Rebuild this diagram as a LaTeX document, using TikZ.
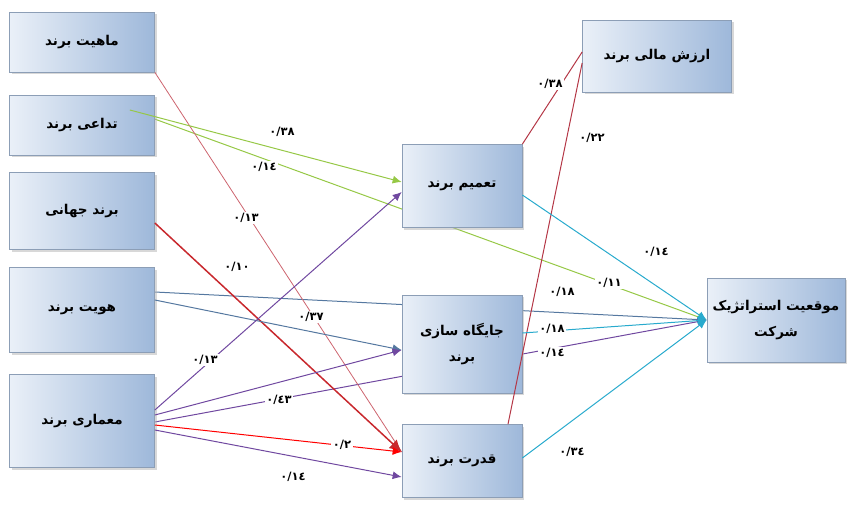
\documentclass[tikz,border=0pt]{standalone}
\usepackage{fontspec}
\newfontfamily\arabicfont[Script=Arabic]{DejaVu Sans}
\TeXXeTstate=1
\usetikzlibrary{shadows,backgrounds,arrows.meta}
\definecolor{boxlight}{RGB}{234,240,248}
\definecolor{boxdark}{RGB}{158,184,218}
\definecolor{boxline}{RGB}{140,158,182}
\definecolor{rose}{RGB}{205,100,110}
\definecolor{leaf}{RGB}{150,200,70}
\definecolor{deepred}{RGB}{200,40,45}
\definecolor{steel}{RGB}{85,120,160}
\definecolor{violet}{RGB}{112,72,160}
\definecolor{brick}{RGB}{180,55,70}
\definecolor{aqua}{RGB}{40,170,205}
\newcommand{\fatext}[1]{\arabicfont\bfseries\beginR #1\endR}
\newcommand{\fanum}[1]{\arabicfont\bfseries #1}

\begin{document}
\begin{tikzpicture}[x=1pt, y=-1pt,
  box/.style={draw=boxline, line width=0.7pt, left color=boxlight, right color=boxdark,
    drop shadow={shadow xshift=2pt, shadow yshift=-2pt, fill=black!30},
    font=\fontsize{13.5}{26}\selectfont, align=center, inner sep=2pt},
  num/.style={fill=white, inner sep=1.5pt, font=\fontsize{11.5}{13}\selectfont},
  conn/.style={line width=1pt, -{Latex[length=9pt,width=8pt]}}]
  \useasboundingbox (0,0) rectangle (849,506);

  % boxes on the left
  \node[box, minimum width=145pt, minimum height=60pt] (mahiyat) at (82,42) {\fatext{ماهیت برند}};
  \node[box, minimum width=145pt, minimum height=60pt] (tadai) at (82,125) {\fatext{تداعی برند}};
  \node[box, minimum width=145pt, minimum height=77pt] (jahani) at (82,211) {\fatext{برند جهانی}};
  \node[box, minimum width=145pt, minimum height=85pt] (hoviat) at (82,310) {\fatext{هویت برند}};
  \node[box, minimum width=145pt, minimum height=93pt] (memari) at (82,421) {\fatext{معماری برند}};

  % middle and right boxes
  \node[box, minimum width=120pt, minimum height=83pt] (tamim) at (462,186) {\fatext{تعمیم برند}};
  \node[box, minimum width=120pt, minimum height=98pt] (jaygah) at (462,344) {\fatext{جایگاه سازی}\\ \fatext{برند}};
  \node[box, minimum width=120pt, minimum height=73pt] (ghodrat) at (462,461) {\fatext{قدرت برند}};
  \node[box, minimum width=149pt, minimum height=72pt] (arzesh) at (657,56) {\fatext{ارزش مالی برند}};
  \node[box, minimum width=138pt, minimum height=84pt] (mogheiat) at (776,320) {\fatext{موقعیت استراتژیک}\\ \fatext{شرکت}};

  % paths that run behind the middle boxes
  \begin{pgfonlayer}{background}
    \draw[conn, leaf] ([xshift=-25pt,yshift=15pt]tadai.east) -- (mogheiat.west);
    \draw[conn, steel] ([yshift=18pt]hoviat.east) -- (mogheiat.west);
    \draw[conn, violet] ([yshift=-1pt]memari.east) -- (mogheiat.west);
  \end{pgfonlayer}

  % connectors
  \draw[line width=0.8pt, rose] (mahiyat.south east) -- ([yshift=9pt]ghodrat.west);
  \draw[conn, leaf] ([xshift=-25pt,yshift=15pt]tadai.east) -- ([yshift=4pt]tamim.west);
  \draw[line width=1.5pt, deepred, -{Latex[length=12pt,width=12pt]}] ([yshift=-12pt]jahani.east) -- ([yshift=9pt]ghodrat.west);
  \draw[conn, steel] ([yshift=10pt]hoviat.east) -- ([yshift=-6pt]jaygah.west);
  \draw[conn, violet] ([yshift=11pt]memari.east) -- ([yshift=-6pt]tamim.west);
  \draw[conn, violet] ([yshift=6pt]memari.east) -- ([yshift=-6pt]jaygah.west);
  \draw[conn, red] ([yshift=-4pt]memari.east) -- ([yshift=9pt]ghodrat.west);
  \draw[conn, violet] ([yshift=-9pt]memari.east) -- ([yshift=-16pt]ghodrat.west);
  \draw[line width=1pt, brick] (tamim.north east) -- ([yshift=4pt]arzesh.west);
  \draw[line width=1pt, brick] ([xshift=46pt]ghodrat.north) -- ([yshift=-7pt]arzesh.west);
  \draw[conn, aqua] ([yshift=-9pt]tamim.east) -- (mogheiat.west);
  \draw[conn, aqua] ([yshift=11pt]jaygah.east) -- (mogheiat.west);
  \draw[conn, aqua] ([yshift=3pt]ghodrat.east) -- (mogheiat.west);

  % coefficients
  \node[num] (c1) at (246,218) {\fanum{٠/١٣}};
  \node[num] (c2) at (311,317) {\fanum{٠/٣٧}};
  \node[num] (c3) at (282,132) {\fanum{٠/٣٨}};
  \node[num] (c4) at (264,167) {\fanum{٠/١٤}};
  \node[num] (c5) at (237,267) {\fanum{٠/١٠}};
  \node[num] (c6) at (609,283) {\fanum{٠/١١}};
  \node[num] (c7) at (205,360) {\fanum{٠/١٣}};
  \node[num] (c8) at (279,400) {\fanum{٠/٤٣}};
  \node[num] (c9) at (342,445) {\fanum{٠/٢}};
  \node[num] (c10) at (293,477) {\fanum{٠/١٤}};
  \node[num] (c11) at (550,84) {\fanum{٠/٣٨}};
  \node[num] (c12) at (592,138) {\fanum{٠/٢٢}};
  \node[num] (c13) at (656,252) {\fanum{٠/١٤}};
  \node[num] (c14) at (562,292) {\fanum{٠/١٨}};
  \node[num] (c15) at (552,329) {\fanum{٠/١٨}};
  \node[num] (c16) at (552,353) {\fanum{٠/١٤}};
  \node[num] (c17) at (572,452) {\fanum{٠/٣٤}};
\end{tikzpicture}
\end{document}
